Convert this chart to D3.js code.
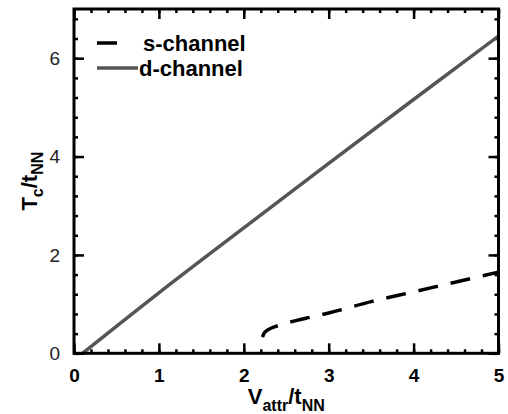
<!DOCTYPE html>
<html>
<head>
<meta charset="utf-8">
<script src="https://cdn.jsdelivr.net/npm/d3@7"></script>
<style>
  body { margin: 0; background: #fff; }
  svg { display: block; font-family: "Liberation Sans", Arial, sans-serif; }
</style>
</head>
<body>
<svg width="508" height="414"></svg>
<script>
// curve data
var dX = [0.1, 1, 2, 3, 4, 5];
var dY = [0, 1.23, 2.55, 3.86, 5.16, 6.45];
var sX = [2.22, 2.24, 2.27, 2.32, 2.4, 2.6, 2.8, 3, 3.5, 4, 4.5, 5];
var sY = [0.33, 0.41, 0.46, 0.51, 0.56, 0.66, 0.74, 0.82, 1.05, 1.25, 1.45, 1.65];
var names = ['s-channel', 'd-channel'];
var xTicks = [0, 1, 2, 3, 4, 5];
var yTicks = [0, 2, 4, 6];

const svg = d3.select('svg');
const margin = {left: 74, right: 9.5, top: 9, bottom: 60.7};
const width = +svg.attr('width');
const height = +svg.attr('height');

const x = d3.scaleLinear().domain([0, 5]).range([margin.left, width - margin.right]);
const y = d3.scaleLinear().domain([0, 7]).range([height - margin.bottom, margin.top]);

const styles = [
  {color: '#000', dash: '20,13'},
  {color: '#555', dash: null}
];

// minor ticks (all four sides, pointing inward)
const xMinor = d3.range(0, 5.001, 0.2);
const yMinor = d3.range(0, 7.001, 0.4);
function addAxis(axis, tr) {
  const g = svg.append('g').attr('transform', tr).call(axis);
  g.select('.domain').remove();
  g.selectAll('line').attr('stroke', '#000').attr('stroke-width', 2.5);
  return g;
}
const x0 = x.range()[0], x1 = x.range()[1], y0 = y.range()[0], y1 = y.range()[1];
addAxis(d3.axisBottom(x).tickValues(xMinor).tickSize(-4).tickFormat(''), `translate(0,${y0})`);
addAxis(d3.axisTop(x).tickValues(xMinor).tickSize(-4).tickFormat(''), `translate(0,${y1})`);
addAxis(d3.axisLeft(y).tickValues(yMinor).tickSize(-4).tickFormat(''), `translate(${x0},0)`);
addAxis(d3.axisRight(y).tickValues(yMinor).tickSize(-4).tickFormat(''), `translate(${x1},0)`);

// major ticks
const gx = addAxis(d3.axisBottom(x).tickValues(xTicks).tickSize(-10).tickPadding(15).tickFormat(d3.format('d')), `translate(0,${y0})`);
gx.selectAll('text').attr('fill', '#000').attr('font-size', 19).attr('font-weight', 'bold').attr('font-family', '"Liberation Sans", Arial, sans-serif');
addAxis(d3.axisTop(x).tickValues(xTicks).tickSize(-10).tickFormat(''), `translate(0,${y1})`);
const gy = addAxis(d3.axisLeft(y).tickValues(yTicks).tickSize(-10).tickPadding(14).tickFormat(d3.format('d')), `translate(${x0},0)`);
gy.selectAll('text').attr('fill', '#222').attr('font-size', 19).attr('font-family', '"Liberation Sans", Arial, sans-serif');
addAxis(d3.axisRight(y).tickValues(yTicks).tickSize(-10).tickFormat(''), `translate(${x1},0)`);

// curves
const clip = svg.append('clipPath').attr('id', 'clip').append('rect')
  .attr('x', x0).attr('y', y1).attr('width', x1 - x0).attr('height', y0 - y1);
const line = d3.line().x(d => x(d[0])).y(d => y(d[1])).curve(d3.curveMonotoneX);
const series = [d3.zip(sX, sY), d3.zip(dX, dY)];
svg.append('g').attr('clip-path', 'url(#clip)')
  .selectAll('path').data(series).join('path')
  .attr('fill', 'none')
  .attr('stroke', (d, i) => styles[i].color)
  .attr('stroke-width', 3.5)
  .attr('stroke-dasharray', (d, i) => styles[i].dash)
  .attr('d', line);

// frame
svg.append('rect')
  .attr('x', x0).attr('y', y1).attr('width', x1 - x0).attr('height', y0 - y1)
  .attr('fill', 'none').attr('stroke', '#000').attr('stroke-width', 3);

// legend
const legend = svg.append('g').selectAll('g').data(names).join('g')
  .attr('transform', (d, i) => `translate(97,${43 + i * 25})`);
legend.append('line')
  .attr('x1', 0).attr('x2', (d, i) => i === 0 ? 20 : 41)
  .attr('stroke', (d, i) => styles[i].color)
  .attr('stroke-width', 3.5);
legend.append('text')
  .attr('x', (d, i) => i === 0 ? 46 : 42).attr('y', 7.5)
  .attr('font-size', 22).attr('font-weight', 'bold')
  .text(d => d);

// axis titles
const xt = svg.append('text')
  .attr('x', (x0 + x1) / 2).attr('y', 404)
  .attr('text-anchor', 'middle').attr('font-weight', 'bold').attr('font-size', 22);
xt.append('tspan').text('V');
xt.append('tspan').attr('font-size', 16).attr('dy', 7).text('attr');
xt.append('tspan').attr('dy', -7).text('/t');
xt.append('tspan').attr('font-size', 16).attr('dy', 7).text('NN');

const yt = svg.append('text')
  .attr('transform', `translate(37,${(y0 + y1) / 2}) rotate(-90)`)
  .attr('text-anchor', 'middle').attr('font-weight', 'bold').attr('font-size', 22);
yt.append('tspan').text('T');
yt.append('tspan').attr('font-size', 16).attr('dy', 6).text('c');
yt.append('tspan').attr('dy', -6).text('/t');
yt.append('tspan').attr('font-size', 16).attr('dy', 6).text('NN');
</script>
</body>
</html>
